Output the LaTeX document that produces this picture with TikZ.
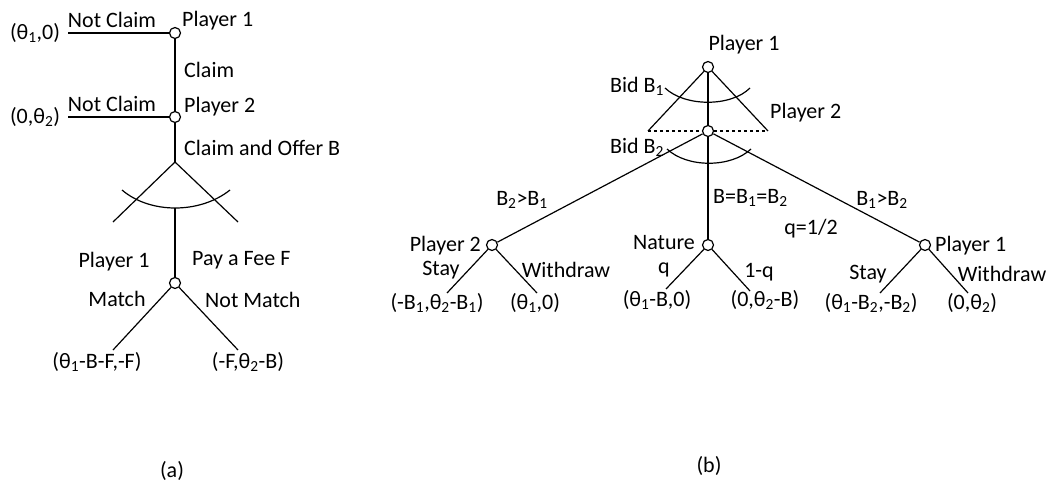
\documentclass[tikz,border=0pt]{standalone}
\usepackage{fontspec}
\setmainfont{Carlito}
\usepackage{tikz}
\tikzstyle{connector} = [line width=1.2pt]
\tikzstyle{choice} = [circle, draw, line width=1.2pt, fill=white, inner sep=0pt, minimum size=11pt]
\tikzstyle{lbl} = [inner sep=0pt, font=\fontsize{22}{25}\selectfont]
\newcommand{\thone}{θ\textsubscript{1}}
\newcommand{\thtwo}{θ\textsubscript{2}}
\newcommand{\bone}{B\textsubscript{1}}
\newcommand{\btwo}{B\textsubscript{2}}

\begin{document}
\begin{tikzpicture}[x=1pt, y=-1pt]
                \useasboundingbox (0,0) rectangle (1048,487);

                % (a)
                \node (a1) [choice] at (175,33) {};
                \node (a2) [choice] at (175,117) {};
                \node (a3) [choice] at (175,283) {};
                \coordinate (ab) at (175,162);
                \coordinate (al) at (113,222);
                \coordinate (ar) at (238,222);
                \coordinate (ai) at (175,208);
                \coordinate (ae1) at (68,33);
                \coordinate (ae2) at (68,117);
                \coordinate (ae3) at (113,350);
                \coordinate (ae4) at (238,350);

                \node [lbl] at (35,33) {(\thone,0)};
                \node [lbl] at (112,20) {Not Claim};
                \node [lbl, anchor=west] at (182,21) {Player 1};
                \node [lbl, anchor=west] at (184,70) {Claim};
                \node [lbl] at (35,117) {(0,\thtwo)};
                \node [lbl] at (112,104) {Not Claim};
                \node [lbl, anchor=west] at (184,107) {Player 2};
                \node [lbl, anchor=west] at (184,148) {Claim and Offer B};
                \node [lbl] at (114,262) {Player 1};
                \node [lbl, anchor=west] at (192,260) {Pay a Fee F};
                \node [lbl] at (117,299) {Match};
                \node [lbl, anchor=west] at (205,300) {Not Match};
                \node [lbl] at (97,362) {(\thone-B-F,-F)};
                \node [lbl] at (248,362) {(-F,\thtwo-B)};
                \node [lbl] at (172,471) {(a)};

                \draw [connector] (a1) -- (ae1);
                \draw [connector] (a2) -- (ae2);
                \draw [connector] (a1) -- (a2);
                \draw [connector] (a2) -- (ab);
                \draw [connector] (ab) -- (al);
                \draw [connector] (ab) -- (ar);
                \draw [connector] (122,190) .. controls (150,214) and (200,214) .. (230,190);
                \draw [connector] (ai) -- (a3);
                \draw [connector] (a3) -- (ae3);
                \draw [connector] (a3) -- (ae4);

                % (b)
                \node (b1) [choice] at (708,67) {};
                \node (b2) [choice] at (708,131) {};
                \node (b3) [choice] at (492,245) {};
                \node (b4) [choice] at (708,245) {};
                \node (b5) [choice] at (925,245) {};
                \coordinate (tl) at (648,131);
                \coordinate (tr) at (768,131);
                \coordinate (be1) at (447,293);
                \coordinate (be2) at (537,293);
                \coordinate (be3) at (666,289);
                \coordinate (be4) at (750,291);
                \coordinate (be5) at (880,293);
                \coordinate (be6) at (968,293);

                \node [lbl] at (744,45) {Player 1};
                \node [lbl] at (637,86) {Bid \bone};
                \node [lbl, anchor=west] at (770,113) {Player 2};
                \node [lbl] at (637,147) {Bid \btwo};
                \node [lbl] at (522,200) {\btwo>\bone};
                \node [lbl, anchor=west] at (713,198) {B=\bone=\btwo};
                \node [lbl] at (882,200) {\bone>\btwo};
                \node [lbl] at (811,229) {q=1/2};
                \node [lbl, anchor=east] at (481,246) {Player 2};
                \node [lbl] at (441,270) {Stay};
                \node [lbl] at (566,270) {Withdraw};
                \node [lbl] at (437,303) {(-\bone,\thtwo-\bone)};
                \node [lbl] at (535,303) {(\thone,0)};
                \node [lbl] at (664,243) {Nature};
                \node [lbl] at (664,270) {q};
                \node [lbl] at (759,272) {1-q};
                \node [lbl] at (657,300) {(\thone-B,0)};
                \node [lbl] at (765,300) {(0,\thtwo-B)};
                \node [lbl, anchor=west] at (935,246) {Player 1};
                \node [lbl] at (868,274) {Stay};
                \node [lbl] at (1002,274) {Withdraw};
                \node [lbl] at (871,303) {(\thone-\btwo,-\btwo)};
                \node [lbl] at (972,303) {(0,\thtwo)};
                \node [lbl] at (709,466) {(b)};

                \draw [connector] (b1) -- (tl);
                \draw [connector] (b1) -- (tr);
                \draw [connector, dashed] (tl) -- (b2);
                \draw [connector, dashed] (b2) -- (tr);
                \draw [connector] (b1) -- (b2);
                \draw [connector] (665,88) .. controls (685,107) and (731,107) .. (750,88);
                \draw [connector] (b2) -- (b3);
                \draw [connector] (b2) -- (b4);
                \draw [connector] (b2) -- (b5);
                \draw [connector] (667,149) .. controls (687,168) and (731,168) .. (751,149);
                \draw [connector] (b3) -- (be1);
                \draw [connector] (b3) -- (be2);
                \draw [connector] (b4) -- (be3);
                \draw [connector] (b4) -- (be4);
                \draw [connector] (b5) -- (be5);
                \draw [connector] (b5) -- (be6);
            \end{tikzpicture}
\end{document}
